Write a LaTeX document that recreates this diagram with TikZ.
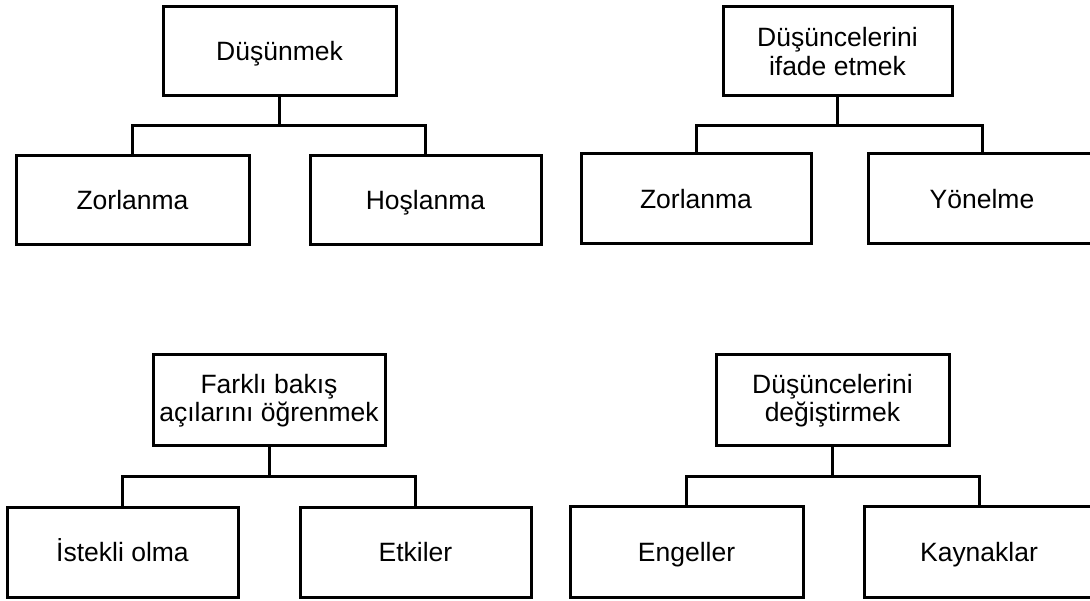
\documentclass[tikz,border=0pt]{standalone}
\usepackage{fontspec}
\setmainfont{Liberation Sans}
\begin{document}
\begin{tikzpicture}[x=1pt,y=1pt,
  box/.style={draw=black, line width=3pt, fill=white, inner sep=0pt, outer sep=0pt,
    align=center, font=\fontsize{26.5}{28.5}\selectfont},
  one/.style={text height=19pt, text depth=0pt},
  conn/.style={draw=black, line width=3pt}]
\path[use as bounding box, clip] (0,0) rectangle (1090,-601);
\fill[white] (0,0) rectangle (1090,-601);
% top left
\node[box, one, minimum width=233, minimum height=89] (p1) at (279.5,-51.5) {Düşünmek};
\node[box, one, minimum width=233, minimum height=89] (c11) at (132.5,-200.5) {Zorlanma};
\node[box, one, minimum width=231, minimum height=89] (c12) at (425.5,-200.5) {Hoşlanma};
\coordinate (j1) at (279.5,-126);
% top right
\node[box, minimum width=229, minimum height=89] (p2) at (837.5,-51.5) {Düşüncelerini\\ifade etmek};
\node[box, one, minimum width=230, minimum height=90] (c21) at (696,-199) {Zorlanma};
\node[box, one, minimum width=228, minimum height=90] (c22) at (982,-199) {Yönelme};
\coordinate (j2) at (837.5,-126);
% bottom left
\node[box, minimum width=232, minimum height=91] (p3) at (269,-400.5) {Farklı bakış\\açılarını öğrenmek};
\node[box, one, minimum width=231, minimum height=90] (c31) at (122.5,-552) {İstekli olma};
\node[box, one, minimum width=231, minimum height=90] (c32) at (415.5,-552) {Etkiler};
\coordinate (j3) at (269,-476);
% bottom right
\node[box, minimum width=233, minimum height=91] (p4) at (832.5,-400.5) {Düşüncelerini\\değiştirmek};
\node[box, one, minimum width=233, minimum height=91] (c41) at (686.5,-551.5) {Engeller};
\node[box, one, minimum width=230, minimum height=91] (c42) at (979,-551.5) {Kaynaklar};
\coordinate (j4) at (832.5,-476);
% connectors
\foreach \p/\j/\a/\b in {p1/j1/c11/c12, p2/j2/c21/c22, p3/j3/c31/c32, p4/j4/c41/c42}{
  \draw[conn] (\p.south) -- (\j);
  \draw[conn] (\a.north) |- (\j) -| (\b.north);
}
\end{tikzpicture}
\end{document}
